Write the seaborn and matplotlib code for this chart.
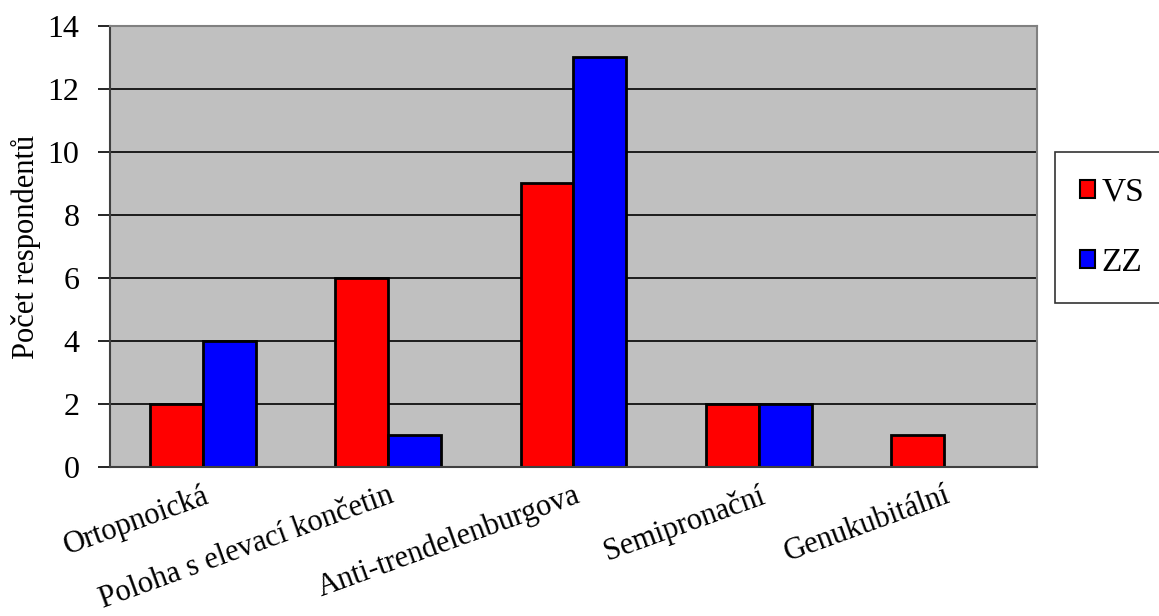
import matplotlib
matplotlib.use("Agg")
import matplotlib.pyplot as plt
import seaborn as sns
import pandas as pd
import numpy as np

categories = ["Ortopnoická", "Poloha s elevací končetin", "Anti-trendelenburgova",
              "Semipronační", "Genukubitální"]
vs_values = [2, 6, 9, 2, 1]
zz_values = [4, 1, 13, 2, 0]
series_names = ["VS", "ZZ"]
series_colors = ["#FF0000", "#0000FF"]
y_ticks = [0, 2, 4, 6, 8, 10, 12, 14]

df = pd.DataFrame({
    "kategorie": categories * 2,
    "počet": vs_values + zz_values,
    "skupina": [series_names[0]] * len(categories) + [series_names[1]] * len(categories),
})

sns.set_style("white")
plt.rcParams["font.family"] = ["Liberation Serif", "DejaVu Serif"]
plt.rcParams["font.size"] = 22
for key in ["text.color", "axes.labelcolor", "xtick.color", "ytick.color"]:
    plt.rcParams[key] = "black"

fig = plt.figure(figsize=(11.59, 6.16), dpi=100)
ax = fig.add_axes([0.0949, 0.2419, 0.7998, 0.7159])
ax.set_facecolor("#C0C0C0")

sns.barplot(data=df, x="kategorie", y="počet", hue="skupina", order=categories,
            hue_order=series_names, palette=series_colors, width=0.57,
            edgecolor="black", linewidth=2, saturation=1, ax=ax, legend=False)

ax.set_ylim(0, 14)
ax.set_xlim(-0.5, len(categories) - 0.5)
ax.set_yticks(y_ticks)
ax.set_yticklabels([str(t) for t in y_ticks], fontsize=23)
for t in y_ticks[1:]:
    ax.axhline(t, color="black", linewidth=1.2, zorder=0.5)

# category labels at centers, tick marks at category boundaries
ax.set_xticks(np.arange(len(categories)))
ax.set_xticklabels(categories, rotation=20, ha="right", va="top",
                   rotation_mode="anchor", fontsize=22)
ax.set_xticks(np.arange(len(categories) + 1) - 0.5, minor=True)
ax.tick_params(axis="x", which="major", length=0, pad=10)
ax.tick_params(axis="x", which="minor", length=9, width=1.2, color="black", direction="out")
ax.tick_params(axis="y", which="major", length=9, width=1.2, color="black",
               direction="out", pad=13, left=True)

ax.set_xlabel("")
ax.set_ylabel("Počet respondentů", fontsize=22, labelpad=5)

for side in ["top", "right"]:
    ax.spines[side].set_color("#808080")
    ax.spines[side].set_linewidth(1.5)
for side in ["left", "bottom"]:
    ax.spines[side].set_color("#404040")
    ax.spines[side].set_linewidth(1.5)

handles = [plt.Rectangle((0, 0), 1, 1, facecolor=c, edgecolor="black", linewidth=1.5)
           for c in series_colors]
leg = fig.legend(handles, series_names, loc="upper left",
                 bbox_to_anchor=(0.9103, 0.7532),
                 frameon=True, fancybox=False, fontsize=24, handlelength=0.45,
                 handleheight=0.45, handletextpad=0.2, labelspacing=1.2,
                 borderpad=0.75, borderaxespad=0)
leg.get_frame().set_edgecolor("black")
leg.get_frame().set_linewidth(1.2)

fig.savefig("out.png", dpi=100, facecolor="white")
